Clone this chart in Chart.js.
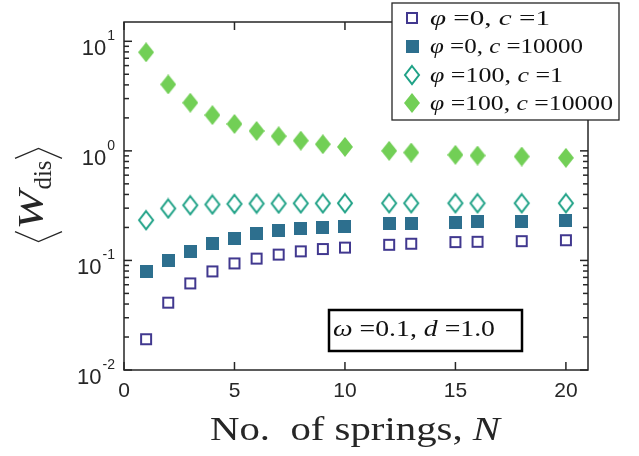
<!DOCTYPE html>
<html>
<head>
<meta charset="utf-8">
<script src="https://cdn.jsdelivr.net/npm/chart.js@4.4.0/dist/chart.umd.min.js"></script>
<style>
html, body { margin: 0; padding: 0; background: #fff; }
canvas { display: block; }
</style>
</head>
<body>
<canvas id="springChart" width="639" height="456"></canvas>
<script>
// number of springs N
var springs = [1, 2, 3, 4, 5, 6, 7, 8, 9, 10, 12, 13, 15, 16, 18, 20];

// <W_dis>
var wPhi0C1 = [0.0191, 0.0412, 0.0617, 0.0794, 0.0939, 0.104, 0.113, 0.121, 0.127, 0.131, 0.139, 0.142, 0.147, 0.148, 0.150, 0.153];
var wPhi0C10000 = [0.0794, 0.0994, 0.120, 0.142, 0.160, 0.175, 0.187, 0.194, 0.200, 0.205, 0.216, 0.217, 0.223, 0.225, 0.228, 0.231];
var wPhi100C1 = [0.233, 0.298, 0.319, 0.324, 0.328, 0.330, 0.331, 0.332, 0.332, 0.333, 0.333, 0.333, 0.333, 0.333, 0.333, 0.333];
var wPhi100C10000 = [7.94, 4.04, 2.75, 2.12, 1.76, 1.52, 1.36, 1.24, 1.15, 1.087, 1.0, 0.965, 0.92, 0.906, 0.888, 0.864];

var seriesPhi = [0, 0, 100, 100];
var seriesC = [1, 10000, 1, 10000];
var seriesColors = ['#41388f', '#2d6f8e', '#20a287', '#72cf56'];

var xTicks = [0, 5, 10, 15, 20];
var yTicks = [0.01, 0.1, 1, 10];
var yTickExp = ['-2', '-1', '0', '1'];

var serif = '"Liberation Serif", "DejaVu Serif", serif';
var sans = '"Liberation Sans", Arial, sans-serif';

// marker images
function makeMarker(kind, color) {
    var c = document.createElement('canvas');
    var g;
    if (kind === 'openSquare') {
        c.width = 14; c.height = 14;
        g = c.getContext('2d');
        g.strokeStyle = color; g.lineWidth = 2;
        g.strokeRect(2, 2, 10, 10);
    } else if (kind === 'square') {
        c.width = 13; c.height = 13;
        g = c.getContext('2d');
        g.fillStyle = color;
        g.fillRect(0, 0, 13, 13);
    } else if (kind === 'openDiamond') {
        c.width = 18; c.height = 22;
        g = c.getContext('2d');
        g.strokeStyle = color; g.lineWidth = 2;
        g.beginPath();
        g.moveTo(9, 2); g.lineTo(16, 11); g.lineTo(9, 20); g.lineTo(2, 11);
        g.closePath(); g.stroke();
    } else {
        c.width = 16; c.height = 20;
        g = c.getContext('2d');
        g.fillStyle = color;
        g.beginPath();
        g.moveTo(8, 0); g.lineTo(16, 10); g.lineTo(8, 20); g.lineTo(0, 10);
        g.closePath(); g.fill();
    }
    return c;
}

var markers = [
    makeMarker('openSquare', seriesColors[0]),
    makeMarker('square', seriesColors[1]),
    makeMarker('openDiamond', seriesColors[2]),
    makeMarker('diamond', seriesColors[3])
];

function toPoints(vals) {
    return springs.map(function (n, i) { return { x: n, y: vals[i] }; });
}

// draw a run of text pieces (some italic), stretched to a given width
function drawRich(ctx, x, y, parts, size, fitW) {
    var total = 0;
    parts.forEach(function (p) {
        ctx.font = (p.i ? 'italic ' : '') + size + 'px ' + serif;
        total += ctx.measureText(p.t).width;
    });
    ctx.save();
    ctx.translate(x, y);
    if (fitW) ctx.scale(fitW / total, 1);
    var cx = 0;
    parts.forEach(function (p) {
        ctx.font = (p.i ? 'italic ' : '') + size + 'px ' + serif;
        ctx.fillText(p.t, cx, 0);
        cx += ctx.measureText(p.t).width;
    });
    ctx.restore();
}

var framePlugin = {
    id: 'frame',
    afterDraw: function (chart) {
        var ctx = chart.ctx;
        var a = chart.chartArea;
        var xs = chart.scales.x;
        var ys = chart.scales.y;
        ctx.save();
        ctx.strokeStyle = '#262626';
        ctx.fillStyle = '#262626';
        ctx.lineWidth = 1.5;

        function seg(x1, y1, x2, y2) {
            ctx.beginPath(); ctx.moveTo(x1, y1); ctx.lineTo(x2, y2); ctx.stroke();
        }

        // x ticks (bottom and top)
        ctx.font = '21px ' + sans;
        ctx.textAlign = 'center';
        ctx.textBaseline = 'top';
        xTicks.forEach(function (v) {
            var px = xs.getPixelForValue(v);
            seg(px, a.bottom, px, a.bottom - 8);
            seg(px, a.top, px, a.top + 8);
            ctx.fillText(String(v), px, a.bottom + 11);
        });

        // y major + minor ticks, left and right
        yTicks.forEach(function (v, k) {
            var py = ys.getPixelForValue(v);
            seg(a.left, py, a.left + 8, py);
            seg(a.right, py, a.right - 8, py);
            for (var m = 2; m <= 9; m++) {
                var mv = v * m;
                if (mv > ys.max) break;
                var mp = ys.getPixelForValue(mv);
                seg(a.left, mp, a.left + 5, mp);
                seg(a.right, mp, a.right - 5, mp);
            }
            ctx.textAlign = 'right';
            ctx.textBaseline = 'alphabetic';
            ctx.font = '14px ' + sans;
            var supW = ctx.measureText(yTickExp[k]).width;
            ctx.fillText(yTickExp[k], a.left - 9, py - 1);
            ctx.font = '22px ' + sans;
            ctx.fillText('10', a.left - 10 - supW, py + 14);
        });

        // frame
        ctx.strokeRect(a.left, a.top, a.right - a.left, a.bottom - a.top);

        // x title
        ctx.fillStyle = '#262626';
        ctx.textAlign = 'left';
        ctx.textBaseline = 'alphabetic';
        drawRich(ctx, 210, 440, [{ t: 'No.  of springs, ' }, { t: 'N', i: true }], 34, 290);

        // y title <W_dis>
        ctx.save();
        ctx.translate(43, 195);
        ctx.rotate(-Math.PI / 2);
        ctx.font = 'italic 36px ' + serif;
        var wW = ctx.measureText('W').width * 1.3;
        ctx.font = '25px ' + serif;
        var dW = ctx.measureText('dis').width;
        var inner = wW + 1 + dW;
        var start = -inner / 2;
        ctx.save();
        ctx.translate(start, 0);
        ctx.scale(1.3, 1);
        ctx.font = 'italic 36px ' + serif;
        ctx.fillText('W', 0, 0);
        ctx.restore();
        ctx.font = '25px ' + serif;
        ctx.fillText('dis', start + wW + 1, 8);
        ctx.lineWidth = 1.3;
        ctx.beginPath();
        ctx.moveTo(start - 2, -28); ctx.lineTo(start - 12, -4.5); ctx.lineTo(start - 2, 19);
        ctx.moveTo(start + inner + 2, -28); ctx.lineTo(start + inner + 12, -4.5); ctx.lineTo(start + inner + 2, 19);
        ctx.stroke();
        ctx.restore();

        // legend box
        var lx = 392, ly = 3, lw = 227, lh = 117;
        ctx.fillStyle = '#fff';
        ctx.fillRect(lx, ly, lw, lh);
        ctx.strokeStyle = '#262626';
        ctx.lineWidth = 1.3;
        ctx.strokeRect(lx, ly, lw, lh);
        var rowY = [18, 46, 75, 103];
        var rowW = [120, 153, 133, 183];
        chart.data.datasets.forEach(function (ds, i) {
            var mk = markers[i];
            ctx.drawImage(mk, 412 - mk.width / 2, rowY[i] - mk.height / 2);
            ctx.fillStyle = '#111';
            ctx.textBaseline = 'middle';
            drawRich(ctx, 430, rowY[i] + 1, [
                { t: 'φ', i: true }, { t: ' =' + seriesPhi[i] + ', ' },
                { t: 'c', i: true }, { t: ' =' + seriesC[i] }
            ], 21, rowW[i]);
        });

        // parameter box
        ctx.fillStyle = '#fff';
        ctx.fillRect(329, 310, 193, 41);
        ctx.strokeStyle = '#000';
        ctx.lineWidth = 2.5;
        ctx.strokeRect(329, 310, 193, 41);
        ctx.fillStyle = '#111';
        ctx.textBaseline = 'alphabetic';
        drawRich(ctx, 333, 336, [
            { t: 'ω', i: true }, { t: ' =0.1, ' }, { t: 'd', i: true }, { t: ' =1.0' }
        ], 23, 162);

        ctx.restore();
    }
};

var datasetList = [wPhi0C1, wPhi0C10000, wPhi100C1, wPhi100C10000].map(function (vals, i) {
    return {
        label: 'phi=' + seriesPhi[i] + ', c=' + seriesC[i],
        data: toPoints(vals),
        pointStyle: markers[i],
        pointRadius: 7,
        borderColor: seriesColors[i],
        backgroundColor: seriesColors[i],
        showLine: false
    };
});

var ctx = document.getElementById('springChart').getContext('2d');
var springChart = new Chart(ctx, {
    type: 'scatter',
    data: { datasets: datasetList },
    options: {
        responsive: false,
        animation: false,
        devicePixelRatio: 1,
        layout: { padding: { left: 124, top: 22, right: 51, bottom: 86 } },
        plugins: {
            legend: { display: false },
            tooltip: { enabled: false }
        },
        scales: {
            x: { type: 'linear', min: 0, max: 21, display: false },
            y: { type: 'logarithmic', min: 0.01, max: 15, display: false }
        }
    },
    plugins: [framePlugin]
});
</script>
</body>
</html>
